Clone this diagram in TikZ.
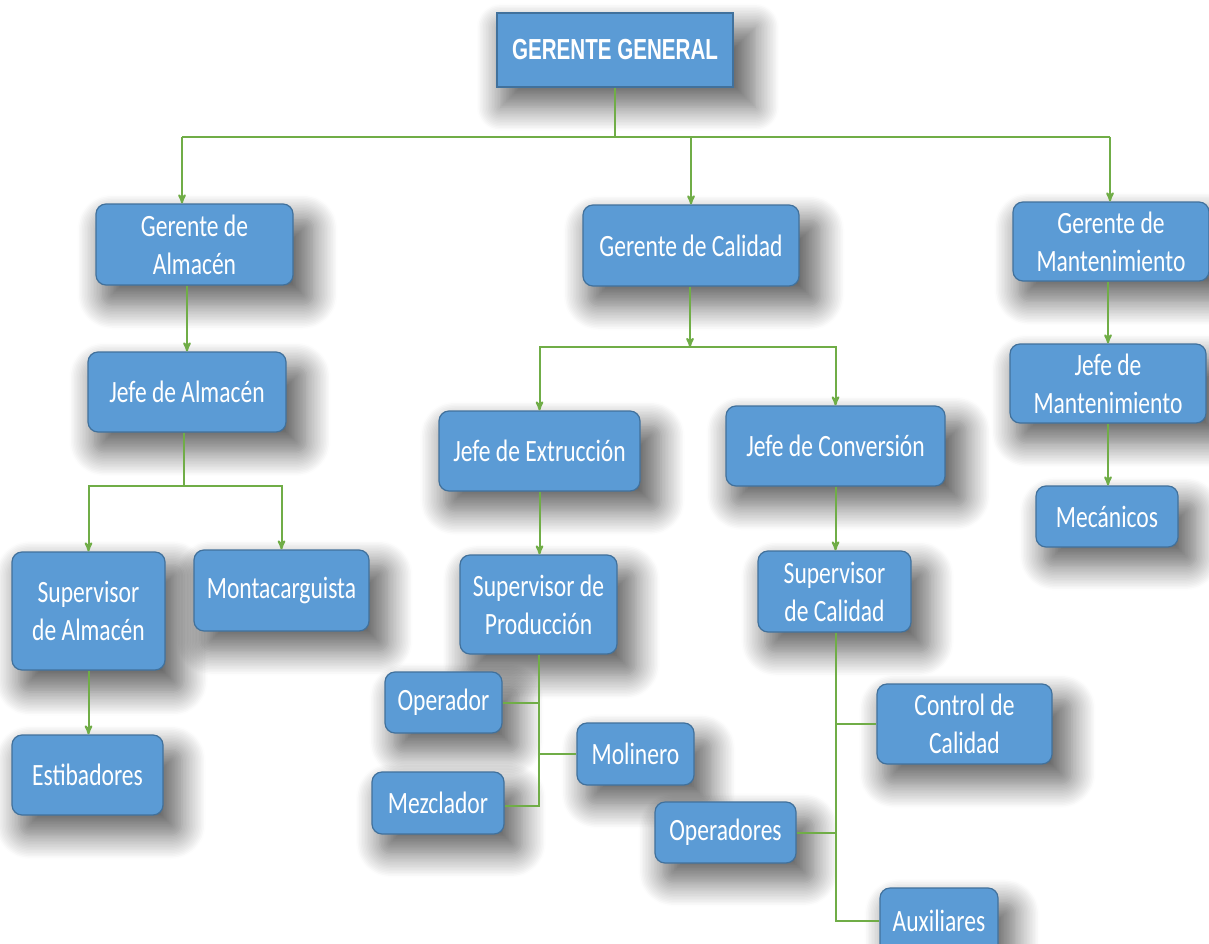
\documentclass[tikz,border=0pt]{standalone}
\usepackage{fontspec}
\newfontfamily\cajafont{Carlito}[FakeStretch=0.76]
\newfontfamily\gerentefont{Liberation Sans Bold}[FakeStretch=0.71]
\usepackage{tikz}
\usetikzlibrary{arrows,calc}
\usetikzlibrary{positioning}
\usetikzlibrary{shadows.blur}
\definecolor{azul}{HTML}{5B9BD5}
\definecolor{borde}{HTML}{41719C}
\definecolor{verde}{HTML}{70AD47}
\tikzset{every picture/.style={auto, >=stealth'}}
\tikzstyle{sombra}		= [blur shadow={shadow xshift=12pt, shadow yshift=-16pt, shadow scale=1.08, shadow blur radius=22pt, shadow blur steps=16, shadow opacity=60}]
\tikzstyle{caja}		= [rectangle, rounded corners=10pt, fill=azul, draw=borde, line width=1.2pt, text=white, align=center, inner sep=0pt, sombra, font=\cajafont\fontsize{31}{38}\selectfont]
\tikzstyle{cajagg}		= [rectangle, fill=azul, draw=borde, line width=1.2pt, text=white, inner sep=0pt, sombra, font=\gerentefont\fontsize{29}{34}\selectfont]
\tikzstyle{to}			= [->, verde, line width=2pt]
\tikzstyle{linea}		= [-, verde, line width=2pt]

\begin{document}
\begin{tikzpicture}[x=1pt, y=-1pt]
	\useasboundingbox (0,0) rectangle (1209,944);

	% Gerencia
	\node[cajagg, minimum width=236pt, minimum height=74pt] (gg) at (615,50) {GERENTE GENERAL};
	\node[caja, minimum width=197pt, minimum height=81pt] (ga) at (194.5,244.5) {Gerente de\\Almacén};
	\node[caja, minimum width=216pt, minimum height=81pt] (gc) at (691,245.5) {Gerente de Calidad};
	\node[caja, minimum width=196pt, minimum height=79pt] (gm) at (1111,241.5) {Gerente de\\Mantenimiento};

	% Almacen
	\node[caja, minimum width=198pt, minimum height=80pt] (ja) at (187,392) {Jefe de Almacén};
	\node[caja, minimum width=153pt, minimum height=118pt] (sa) at (88.5,611) {Supervisor\\de Almacén};
	\node[caja, minimum width=175pt, minimum height=81pt] (mo) at (281.5,590.5) {Montacarguista};
	\node[caja, minimum width=151pt, minimum height=80pt] (es) at (87.5,775) {Estibadores};

	% Calidad
	\node[caja, minimum width=201pt, minimum height=80pt] (je) at (539.5,451) {Jefe de Extrucción};
	\node[caja, minimum width=219pt, minimum height=80pt] (jc) at (835.5,446) {Jefe de Conversión};
	\node[caja, minimum width=157pt, minimum height=99pt] (sp) at (538.5,604.5) {Supervisor de\\Producción};
	\node[caja, minimum width=153pt, minimum height=81pt] (sc) at (834.5,591.5) {Supervisor\\de Calidad};
	\node[caja, minimum width=117pt, minimum height=61pt] (op) at (443.5,702.5) {Operador};
	\node[caja, minimum width=117pt, minimum height=62pt] (ml) at (635.5,754) {Molinero};
	\node[caja, minimum width=132pt, minimum height=62pt] (mz) at (438,803) {Mezclador};
	\node[caja, minimum width=175pt, minimum height=80pt] (cc) at (964.5,724) {Control de\\Calidad};
	\node[caja, minimum width=141pt, minimum height=61pt] (os) at (725.5,832.5) {Operadores};
	\node[caja, minimum width=118pt, minimum height=66pt] (ax) at (939,921) {Auxiliares};

	% Mantenimiento
	\node[caja, minimum width=196pt, minimum height=79pt] (jm) at (1108,383.5) {Jefe de\\Mantenimiento};
	\node[caja, minimum width=142pt, minimum height=61pt] (mc) at (1107,516.5) {Mecánicos};

	% Verbindungen
	\coordinate (b1) at (615,137);
	\coordinate (b1l) at (182,137);
	\coordinate (b1r) at (1110,137);
	\draw[linea] (gg.south) -- (b1);
	\draw[linea] (b1l) -- (b1r);
	\draw[to] (b1l) -- (b1l |- ga.north);
	\draw[to] (b1 -| gc.north) -- (gc.north);
	\draw[to] (b1r) -- (b1r |- gm.north);

	\draw[to] (ga.south -| ja.north) -- (ja.north);
	\coordinate (b2) at (184,486);
	\draw[linea] (ja.south -| b2) -- (b2);
	\draw[to] (b2) -| (sa.north);
	\draw[to] (b2) -| (mo.north);
	\draw[to] (sa.south) -- (sa.south |- es.north);

	\coordinate (b3) at (690,347);
	\draw[to] (gc.south -| b3) -- (b3);
	\draw[to] (b3) -| (je.north);
	\draw[to] (b3) -| (jc.north);
	\draw[to] (je.south) -- (je.south |- sp.north);
	\draw[to] (jc.south) -- (jc.south |- sc.north);

	\coordinate (b4) at (539,806);
	\draw[linea] (sp.south -| b4) -- (b4) -- (b4 -| mz.east);
	\draw[linea] (b4 |- op.east) -- (op.east);
	\draw[linea] (b4 |- ml.west) -- (ml.west);

	\coordinate (b5) at (836,921);
	\draw[linea] (sc.south -| b5) -- (b5) -- (b5 -| ax.west);
	\draw[linea] (b5 |- cc.west) -- (cc.west);
	\draw[linea] (b5 |- os.east) -- (os.east);

	\draw[to] (gm.south -| jm.north) -- (jm.north);
	\draw[to] (jm.south) -- (jm.south |- mc.north);
\end{tikzpicture}
\end{document}
